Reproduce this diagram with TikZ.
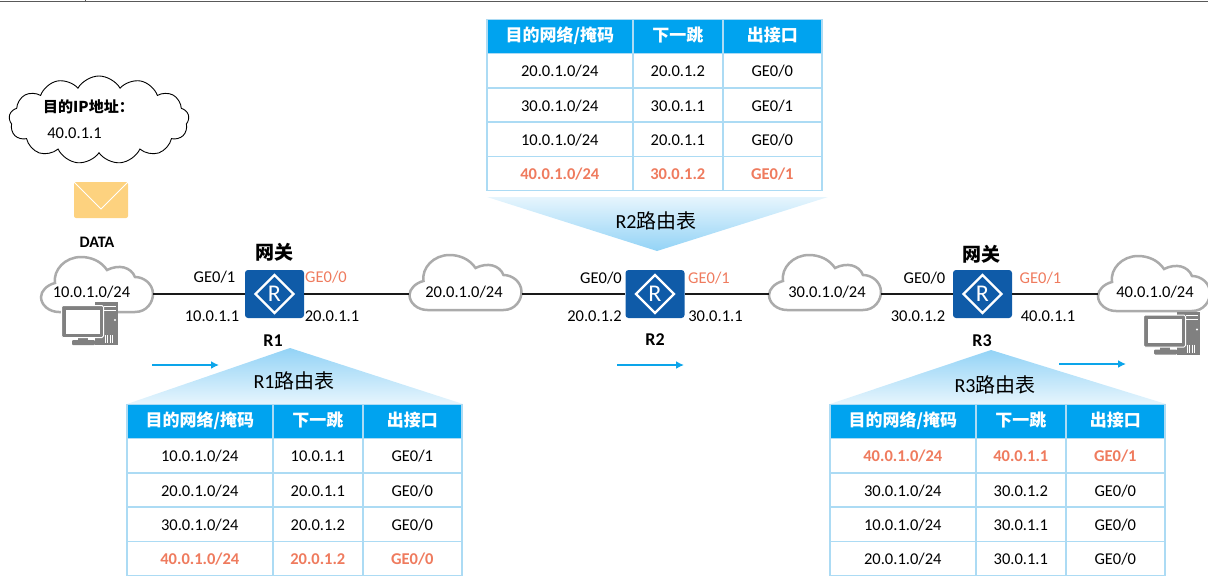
\documentclass[tikz,border=0pt]{standalone}
\usepackage{fontspec}
\setmainfont{Carlito}
\newfontfamily\cjk{Noto Sans CJK SC}
\usetikzlibrary{arrows.meta}
\usetikzlibrary{shapes.symbols}

\begin{document}
\begin{tikzpicture}[x=1pt,y=-1pt]
  \tikzset{router/.style = {shape=rectangle,rounded corners=3pt,fill=routerblue,text=white,minimum width=59pt,minimum height=48pt,inner sep=0pt,font=\fontsize{24}{24}\selectfont,
    path picture={\draw[white,line width=2.2pt,sharp corners] ([xshift=-19pt]path picture bounding box.center) -- ([yshift=19pt]path picture bounding box.center) -- ([xshift=19pt]path picture bounding box.center) -- ([yshift=-19pt]path picture bounding box.center) -- cycle;}}}
  \tikzset{net/.style = {minimum width=112pt,minimum height=54pt,inner sep=0pt}}
  \tikzset{netcloud/.style = {draw=cloudgray,line width=2.5pt,fill=white}}
  \tikzset{link/.style = {line width=2.2pt,black!90}}
  \tikzset{flow/.style = {line width=2.2pt,flowblue,-{Latex[length=8pt,width=8pt]}}}
  \tikzset{port/.style = {inner sep=0pt,font=\fontsize{16.5}{19}\selectfont}}
  \tikzset{hotport/.style = {port,text=hotred}}
  \tikzset{title/.style = {inner sep=0pt,font=\cjk\bfseries\fontsize{19}{22}\selectfont}}
  \tikzset{rname/.style = {inner sep=0pt,font=\bfseries\fontsize{18}{20}\selectfont}}
  \tikzset{cell/.style = {anchor=north west,draw=cellblue,line width=1.6pt,minimum height=34.25pt,inner sep=0pt,text height=12.5pt,text depth=0pt}}
  \tikzset{rowcell/.style = {cell,fill=white,font=\fontsize{16.5}{19}\selectfont}}
  \tikzset{hotcell/.style = {cell,fill=white,text=hotred,font=\bfseries\fontsize{16.5}{19}\selectfont}}
  \tikzset{headcell/.style = {cell,fill=headblue,text=white,text height=13pt,text depth=2pt,font=\cjk\bfseries\fontsize{17}{19}\selectfont}}
  \tikzset{tabname/.style = {inner sep=0pt,font=\fontsize{20}{22}\selectfont}}
  \definecolor{routerblue}{HTML}{0F5BA8}
  \definecolor{cloudgray}{HTML}{ABABAB}
  \definecolor{flowblue}{HTML}{0CA5EA}
  \definecolor{hotred}{HTML}{EF7B5E}
  \definecolor{cellblue}{HTML}{ACDBF4}
  \definecolor{headblue}{HTML}{00A3EF}
  \definecolor{fadeblue}{HTML}{93D3F6}
  \definecolor{paleblue}{HTML}{E6F5FD}
  \definecolor{mailyellow}{HTML}{FDD27F}
  \definecolor{pcgray}{HTML}{808080}

  \useasboundingbox (0,0) rectangle (1208,584);

  % window edge along the top
  \draw[black!65,line width=1.2pt] (0,1.5) -- (1208,1.5);
  \draw[black!65,line width=0.8pt] (85,0) -- (85,1.5);

  % destination address note and the mail
  \node[cloud,draw,cloud puffs=13,cloud puff arc=120,aspect=2,minimum width=180pt,minimum height=88pt,inner sep=0pt,line width=0.9pt] (note) at (99,120) {};
  \node[inner sep=0pt,font=\cjk\bfseries\fontsize{15}{17}\selectfont] (dstip) at (88.5,107) {目的IP地址：};
  \node[port] (dstval) at (74.5,133.5) {40.0.1.1};
  \fill[mailyellow,rounded corners=2pt] (74,182) rectangle (128,218);
  \draw[white,line width=1pt] (74,182) -- (101,209) -- (128,182);
  \node[inner sep=0pt,font=\bfseries\fontsize{16}{18}\selectfont] (data) at (97,242) {DATA};

  % the four networks
  \foreach \name/\cx/\cy/\tx/\txt in {net1/97/294/91.5/{10.0.1.0/24}, net2/465.5/292/464/{20.0.1.0/24}, net3/825/292/827/{30.0.1.0/24}, net4/1154/293/1155/{40.0.1.0/24}}
  {
    \draw[netcloud,shift={(\cx,\cy)}] (-38,18) -- (38,18) .. controls (50,18) and (56,8) .. (56,0)
      .. controls (56,-10) and (47,-17) .. (38,-17) .. controls (34,-27) and (22,-30) .. (10,-24)
      .. controls (4,-33) and (-6,-37) .. (-16,-37) .. controls (-32,-37) and (-44,-24) .. (-42,-11)
      .. controls (-50,-9) and (-56,-3) .. (-56,3) .. controls (-56,11) and (-48,18) .. (-38,18) -- cycle;
    \node[net] (\name) at (\cx,294) {};
    \node[port] (\name txt) at (\tx,292.5) {\txt};
  }

  % routers
  \node[router] (R1) at (274.5,294) {R};
  \node[router] (R2) at (655,294) {R};
  \node[router] (R3) at (982.5,294) {R};

  \foreach \from/\to in {net1/R1, R1/net2, net2/R2, R2/net3, net3/R3, R3/net4}
    \draw[link] (\from) -- (\to);

  \node[title] (gw1) at (274,252) {网关};
  \node[title] (gw3) at (981,254) {网关};
  \node[rname] (n1) at (273,341) {R1};
  \node[rname] (n2) at (655,340) {R2};
  \node[rname] (n3) at (982,341) {R3};

  % interface names and addresses
  \node[port] (p11) at (214.5,277) {GE0/1};
  \node[hotport] (p10) at (326,277) {GE0/0};
  \node[port] (a11) at (212,316) {10.0.1.1};
  \node[port] (a10) at (332,316) {20.0.1.1};
  \node[port] (p20) at (601,278) {GE0/0};
  \node[hotport] (p21) at (709,278) {GE0/1};
  \node[port] (a20) at (594.5,316) {20.0.1.2};
  \node[port] (a21) at (715.5,316) {30.0.1.1};
  \node[port] (p30) at (924.5,278) {GE0/0};
  \node[hotport] (p31) at (1040.5,278) {GE0/1};
  \node[port] (a30) at (918,316) {30.0.1.2};
  \node[port] (a31) at (1048,316) {40.0.1.1};

  % the two hosts
  \foreach \sx/\sy in {0/0, 1082/9.5}
  {
    \begin{scope}[shift={(\sx,\sy)}]
      \fill[pcgray] (95,302) rectangle (118,345);
      \draw[white,line width=0.8pt] (104,306) -- (116,306) (104,310) -- (116,310);
      \fill[white] (115,320) circle (1.2pt);
      \foreach \vx in {105,107.5,...,113}
        \draw[white,line width=0.7pt] (\vx,335) -- (\vx,343);
      \fill[pcgray] (78,336) rectangle (88,341);
      \fill[pcgray,rounded corners=1pt] (72,340) rectangle (95,345);
      \draw[white,line width=1pt,fill=pcgray,rounded corners=1.5pt] (61.5,305.5) rectangle (103.5,337.5);
      \fill[white] (65.5,309.5) rectangle (99.5,333.5);
    \end{scope}
  }

  % traffic direction
  \coordinate (f1a) at (152,365);
  \coordinate (f1b) at (219,365);
  \coordinate (f2a) at (617,365);
  \coordinate (f2b) at (684,365);
  \coordinate (f3a) at (1059,364);
  \coordinate (f3b) at (1126,364);
  \foreach \from/\to in {f1a/f1b, f2a/f2b, f3a/f3b}
    \draw[flow] (\from) -- (\to);

  % funnels from routers to their tables
  \shade[top color=fadeblue,bottom color=paleblue] (290,348) -- (463,404) -- (127,404) -- cycle;
  \shade[top color=paleblue,bottom color=fadeblue] (487,197) -- (828,197) -- (657,251) -- cycle;
  \shade[top color=fadeblue,bottom color=paleblue] (991,350) -- (1166,404) -- (830,404) -- cycle;
  \node[tabname] (t1) at (294,381) {R1{\cjk 路由表}};
  \node[tabname] (t2) at (656,221) {R2{\cjk 路由表}};
  \node[tabname] (t3) at (995,385) {R3{\cjk 路由表}};

  % routing tables
  \foreach \tab/\ox/\oy/\rows in {
      A/126/403.5/{1/10.0.1.0/10.0.1.1/1/rowcell, 2/20.0.1.0/20.0.1.1/0/rowcell, 3/30.0.1.0/20.0.1.2/0/rowcell, 4/40.0.1.0/20.0.1.2/0/hotcell},
      B/486/18.5/{1/20.0.1.0/20.0.1.2/0/rowcell, 2/30.0.1.0/30.0.1.1/1/rowcell, 3/10.0.1.0/20.0.1.1/0/rowcell, 4/40.0.1.0/30.0.1.2/1/hotcell},
      C/829/403.5/{1/40.0.1.0/40.0.1.1/1/hotcell, 2/30.0.1.0/30.0.1.2/0/rowcell, 3/10.0.1.0/30.0.1.1/0/rowcell, 4/20.0.1.0/30.0.1.1/0/rowcell}}
  {
    \begin{scope}[shift={(\ox,\oy)}]
      \node[headcell,minimum width=146pt] (\tab h1) at (0,0) {目的网络/掩码};
      \node[headcell,minimum width=90pt] (\tab h2) at (146,0) {下一跳};
      \node[headcell,minimum width=99pt] (\tab h3) at (236,0) {出接口};
      \foreach \r/\dest/\hop/\gate/\cellsty in \rows
      {
        \node[\cellsty,minimum width=146pt] (\tab\r d) at (0,\r*34.25) {\dest/24};
        \node[\cellsty,minimum width=90pt] (\tab\r h) at (146,\r*34.25) {\hop};
        \node[\cellsty,minimum width=99pt] (\tab\r g) at (236,\r*34.25) {GE0/\gate};
      }
    \end{scope}
  }
\end{tikzpicture}
\end{document}
